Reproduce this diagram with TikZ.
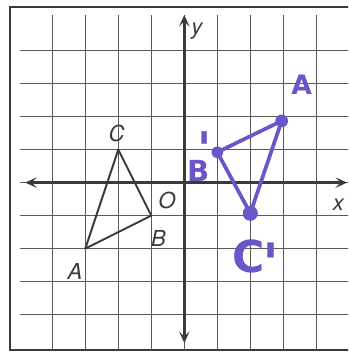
\documentclass[tikz,border=0pt]{standalone}
\usepackage{fontspec}
\setsansfont{TeX Gyre Heros}
\newfontfamily\handfont{DejaVu Sans}
\usetikzlibrary{arrows.meta}
\definecolor{gridc}{HTML}{5A5A5A}
\definecolor{axisc}{HTML}{3A3A3A}
\definecolor{penc}{HTML}{6B55C9}
% prime placed freely after a letter: #1 = horizontal shift, #2 = raise, #3 = size
\newcommand{\freeprime}[3]{\rlap{\hspace{#1}\smash{\raisebox{#2}{\fontsize{#3}{#3}\selectfont '}}}}
\tikzset{
  gridline/.style={line width=0.9pt, color=gridc},
  frameline/.style={line width=1.8pt, color=axisc},
  axisline/.style={line width=2.4pt, color=axisc,
     arrows={Stealth[length=10pt,width=9pt,inset=4.5pt]-Stealth[length=10pt,width=9pt,inset=4.5pt]}},
  triline/.style={line width=1.7pt, color=axisc, line join=round},
  lbl/.style={font=\fontsize{19}{20}\selectfont\sffamily\itshape, text=axisc, inner sep=0pt},
  penline/.style={line width=3.2pt, color=penc, line join=round, line cap=round},
  pendot/.style={circle, fill=penc, inner sep=0pt, minimum size=#1},
  hand/.style={font=\fontsize{#1}{#1}\selectfont\handfont\bfseries, text=penc, inner sep=0pt}
}
\begin{document}
\begin{tikzpicture}
\useasboundingbox (-5.585,-5.133) rectangle (4.96,5.533);
\clip (-5.585,-5.133) rectangle (4.96,5.533);
\fill[white] (-5.585,-5.133) rectangle (4.96,5.533);
% frame
\draw[frameline] (-5.28,-5.07) rectangle (5.4,5.33);
% grid
\foreach \i in {-4,...,4} {
  \draw[gridline] (\i,5.08) -- (\i,-5.07);
  \draw[gridline] (-4.97,\i) -- (5.1,\i);
}
% axes
\coordinate (xl) at (-4.82,0);
\coordinate (xr) at (4.93,0);
\coordinate (yt) at (0,5.08);
\coordinate (yb) at (0,-4.86);
\draw[axisline] (xl) -- (xr);
\draw[axisline] (yt) -- (yb);
\node[lbl] (ylab) at (0.38,4.6) {y};
\node[lbl] (xlab) at (4.67,-0.68) {x};
\node[lbl] (olab) at (-0.53,-0.55) {O};
% original triangle
\coordinate (A) at (-3,-2);
\coordinate (B) at (-1,-1);
\coordinate (C) at (-2,1);
\draw[triline] (A) -- (B) -- (C) -- cycle;
\node[lbl] (Alab) at (-3.31,-2.69) {A};
\node[lbl] (Blab) at (-0.78,-1.69) {B};
\node[lbl] (Clab) at (-2.05,1.49) {C};
% image triangle
\node[pendot=11pt] (Ap) at (2.95,1.87) {};
\node[pendot=10pt] (Bp) at (1.0,0.92) {};
\node[pendot=13pt] (Cp) at (2.0,-0.93) {};
\draw[penline] (Ap.center) -- (Bp.center) -- (Cp.center) -- cycle;
\node[hand=23] (Aplab) at (3.56,2.96) {A};
\node[hand=25] (Bplab) at (0.42,0.34) {B\freeprime{-10.3pt}{14.6pt}{40}};
\node[hand=38] (Cplab) at (1.94,-2.25) {C\freeprime{-1.6pt}{-9.4pt}{48}};
\end{tikzpicture}
\end{document}
